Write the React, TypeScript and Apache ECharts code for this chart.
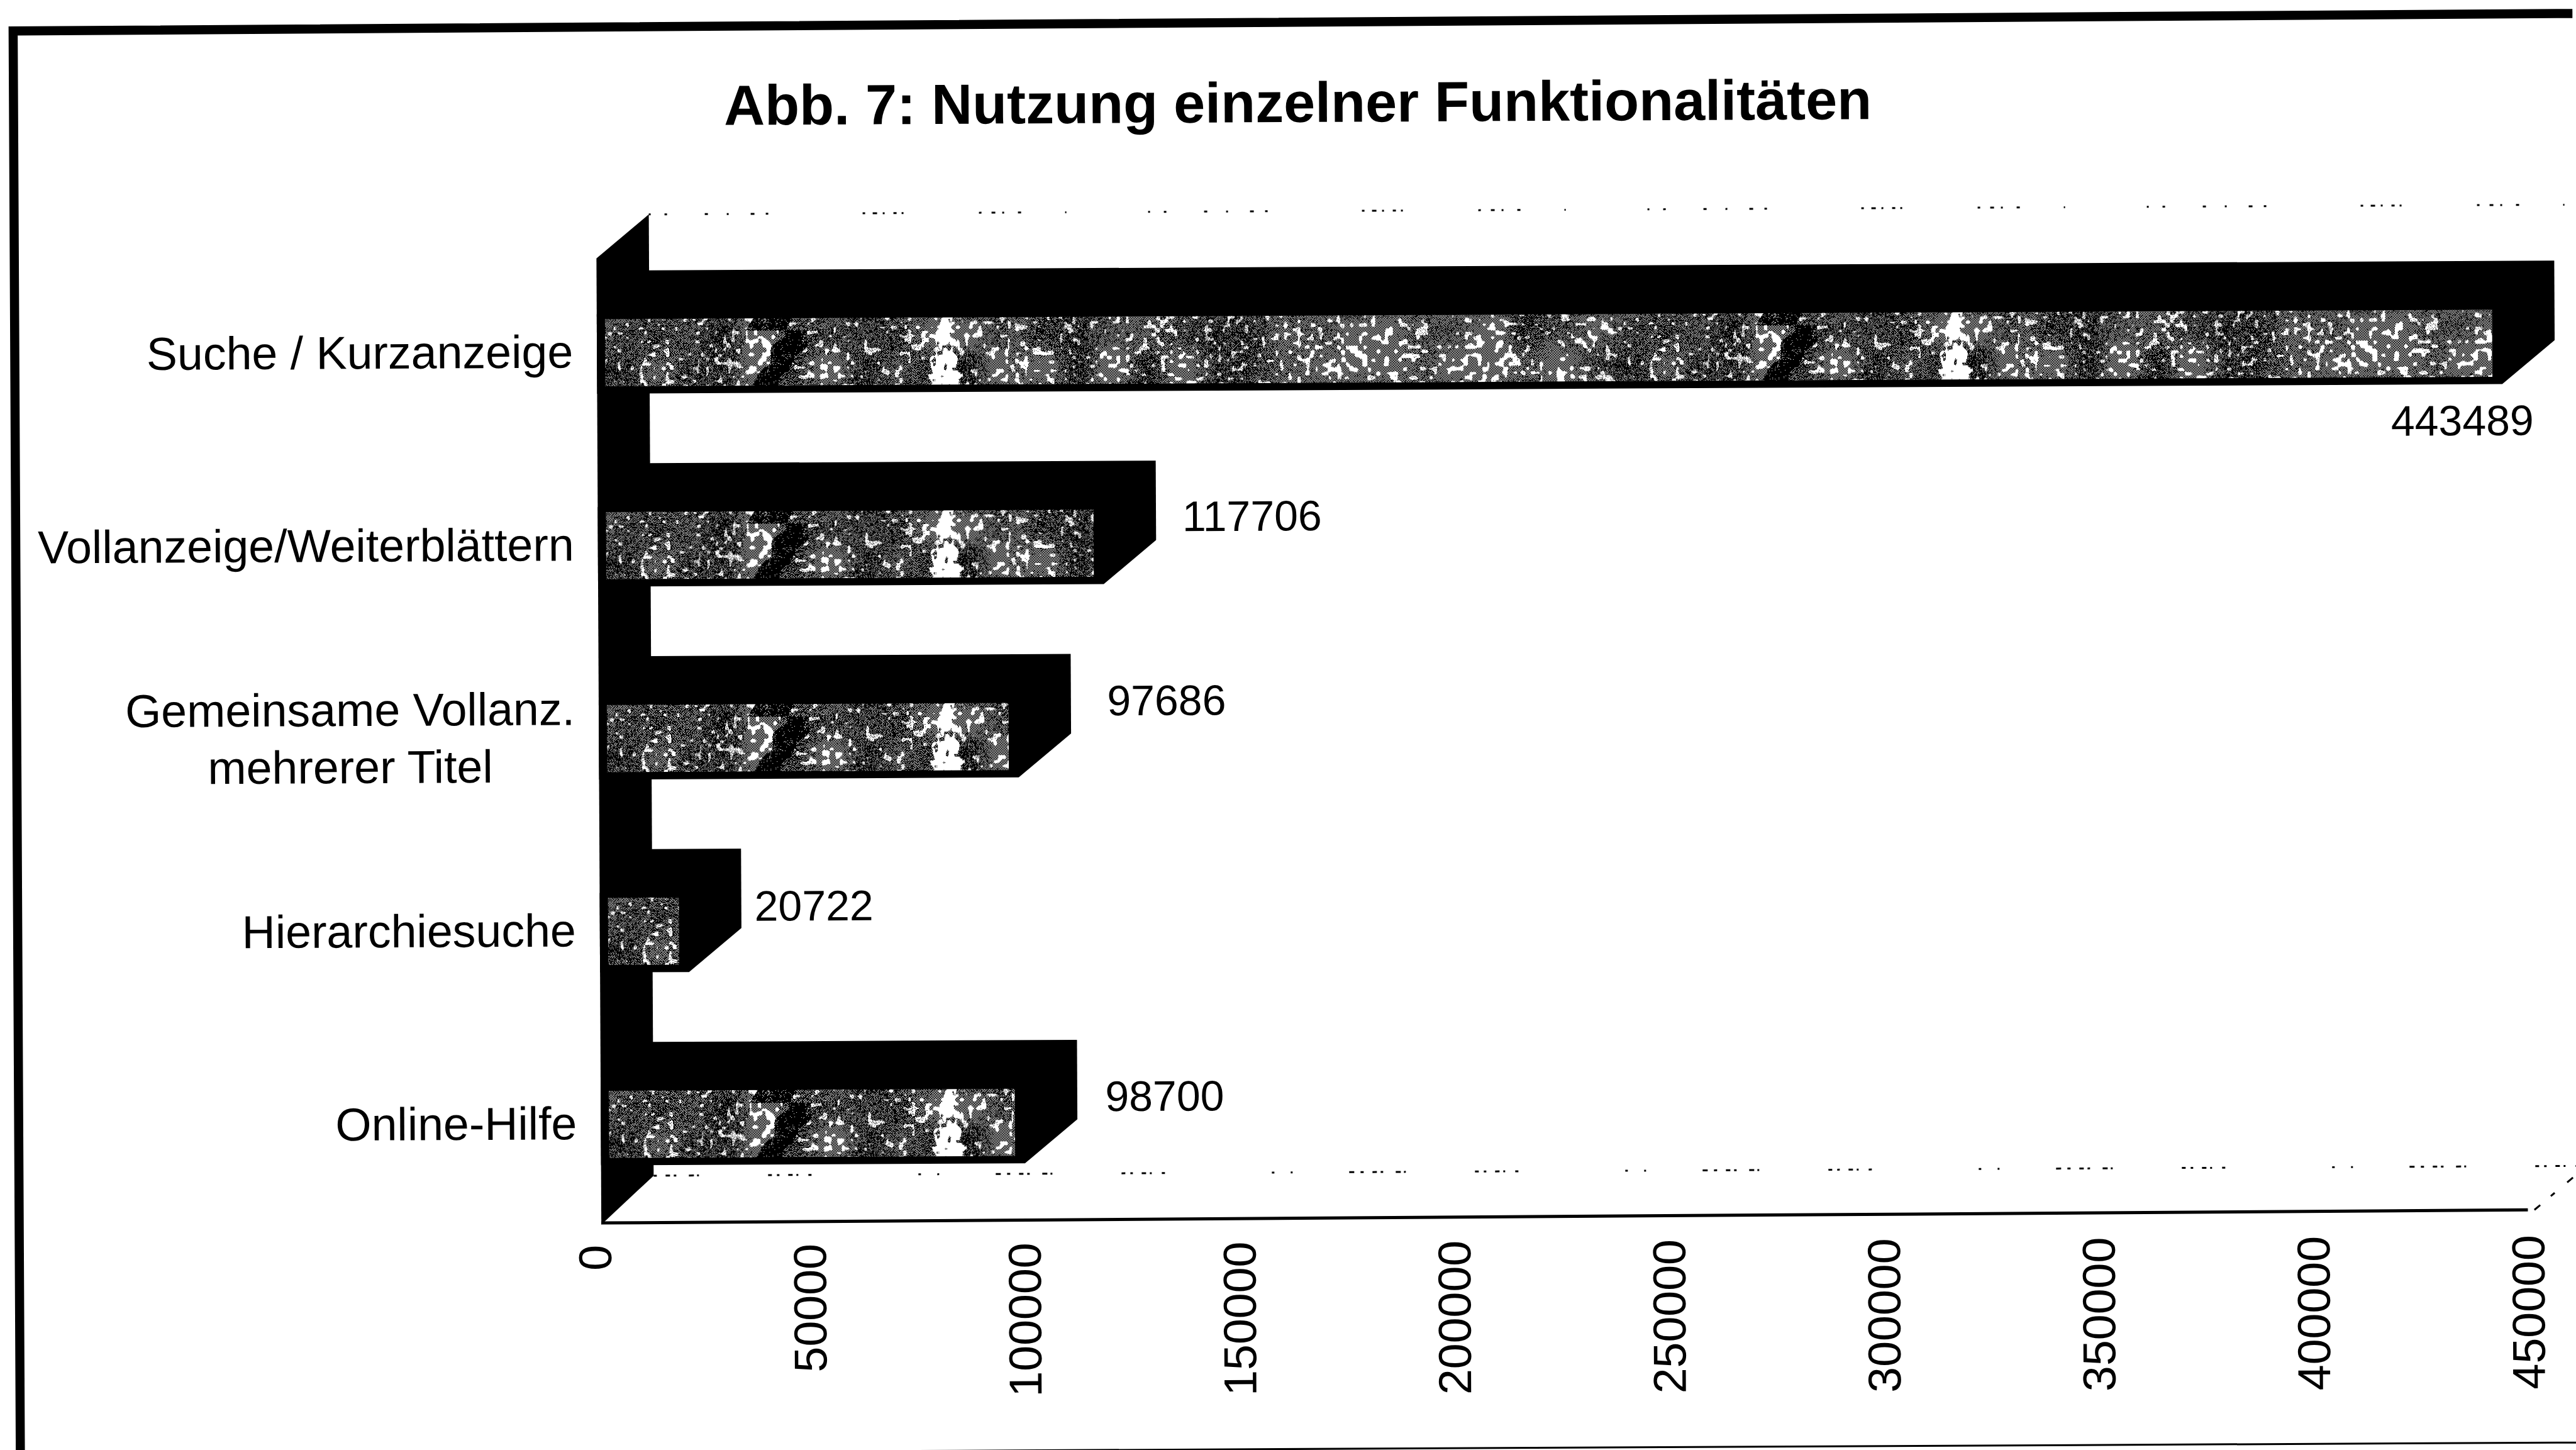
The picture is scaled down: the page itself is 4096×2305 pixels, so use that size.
import React, { useEffect, useRef } from "react";
import * as echarts from "echarts";

const categories = ["Suche / Kurzanzeige", "Vollanzeige/Weiterblättern", "Gemeinsame Vollanz.\nmehrerer Titel", "Hierarchiesuche", "Online-Hilfe"];
const usageValues = [443489, 117706, 97686, 20722, 98700];
const titleText = "Abb. 7: Nutzung einzelner Funktionalitäten";

const K = 2.6122; // one unit of the 1568-wide view, in window pixels
const DEPTH_X = 32 * K;
const DEPTH_Y = 26.6 * K;
const FONT = "'Liberation Sans', Arial, sans-serif";
const TOP_SPECKLE = [3, 22, 4, 60, 5, 30, 3, 35, 6, 18, 4, 150, 4, 12, 7, 9, 3, 14, 5, 8, 3, 120, 4, 16, 6, 11, 3, 22, 5, 70, 2, 130];
const FLOOR_SPECKLE = [5, 14, 7, 6, 4, 20, 8, 5, 3, 110, 6, 8, 4, 14, 7, 6, 3, 16, 5, 170, 4, 26, 3, 90, 8, 10];

function hash(i: number, j: number) {
  let h = Math.imul(i + 1, 374761393) ^ Math.imul(j + 1, 668265263);
  h = Math.imul(h ^ (h >>> 13), 1274126177);
  h = Math.imul(h ^ (h >>> 16), 2246822519);
  return ((h ^ (h >>> 15)) >>> 0) / 4294967296;
}
function smooth(x: number, y: number) {
  const xi = Math.floor(x), yi = Math.floor(y);
  const fx = x - xi, fy = y - yi;
  const a = hash(xi, yi), b = hash(xi + 1, yi), c = hash(xi, yi + 1), d = hash(xi + 1, yi + 1);
  const ux = fx * fx * (3 - 2 * fx), uy = fy * fy * (3 - 2 * fy);
  return a + (b - a) * ux + (c - a) * uy + (a - b - c + d) * ux * uy;
}

// the scan's stippled bar fill: one tile, as wide as the picture repeat and as high as a band
let tile: HTMLCanvasElement | null = null;
function scanTexture() {
  if (tile) return tile;
  const W = 1606, H = 307;
  const cv = document.createElement("canvas");
  cv.width = W; cv.height = H;
  const ctx = cv.getContext("2d")!;
  ctx.fillStyle = "#000";
  ctx.fillRect(0, 0, W, H);
  ctx.fillStyle = "#fff";
  for (let y = 0; y < H; y++) {
    const t = (y - 197) / 107;
    for (let x = 0; x < W; x++) {
      const broad = smooth(x / 55 + 9, y / 55 + 4);
      const fine = smooth(x / 7, y / 7);
      const hatch = (x + y) % 4 === 0 || (x - y + 4000) % 4 === 0;
      let on = hatch ? hash(x, y) < 0.3 + broad * 0.9 : fine > 0.84 - broad * 0.2;
      const slant = x + (y % 107) * 0.45 + 30 * (smooth(x / 24, y / 24) - 0.5);
      if (slant > 1246 && slant < 1290) on = on && hash(x + 3, y) < 0.12;
      const half = 7 + 18 * Math.max(0, Math.min(1, t)) + 14 * (smooth(x / 13 + 5, y / 13) - 0.5);
      if (Math.abs(x - 1505) < half && t > -0.05 && t < 1.05 && smooth(x / 6 + 2, y / 6) < 0.8) on = true;
      if (on) ctx.fillRect(x, y, 1, 1);
    }
  }
  tile = cv;
  return cv;
}

function renderBar(params: any, api: any) {
  const i = params.dataIndex;
  const v = api.value(0);
  const cat = api.value(1);
  const x0 = api.coord([0, cat])[0];
  const [x1, labelY] = api.coord([v, cat]);
  const cy = labelY + 1.5 * K;
  const band = api.size([0, 1])[1];
  const h = band * 0.412;
  const ft = cy - h / 2, fb = cy + h / 2;
  const label = String(v);
  const first = i === 0;
  const lx = first ? x1 + 19 * K : x1 + DEPTH_X + [0, 16, 22, 8, 17][i] * K;
  const ly = labelY + (first ? 47.6 : [0, -15.5, -21, -14.5, -15][i]) * K;
  return {
    type: "group",
    children: [
      { type: "polygon", shape: { points: [[x0, fb], [x0, ft], [x0 + DEPTH_X, ft - DEPTH_Y], [x1 + DEPTH_X, ft - DEPTH_Y], [x1 + DEPTH_X, fb - DEPTH_Y], [x1, fb]] }, style: { fill: "#000" } },
      { type: "rect", shape: { x: x0 + 5 * K, y: ft + 3 * K, width: x1 - x0 - 11 * K, height: h - 7.5 * K }, style: { fill: { image: scanTexture(), repeat: "repeat" } } },
      { type: "text", x: lx, y: ly, style: { text: label, fill: "#000", font: `68px ${FONT}`, align: first ? "right" : "left", verticalAlign: "middle", textAlign: first ? "right" : "left", textVerticalAlign: "middle" } },
    ],
  };
}

function renderWalls(params: any) {
  const g = params.coordSys;
  const l = g.x, r = g.x + g.width, t = g.y, b = g.y + g.height;
  const backX = l + DEPTH_X;
  const line = (pts: number[][], dash: any, w = 3) => ({ type: "polyline", shape: { points: pts }, style: { stroke: "#000", fill: "none", lineWidth: w, lineDash: dash } });
  return {
    type: "group",
    children: [
      line([[backX, t + 2 * K - DEPTH_Y], [r + DEPTH_X, t + 2 * K - DEPTH_Y]], TOP_SPECKLE),
      line([[backX, b - DEPTH_Y], [r + DEPTH_X, b - DEPTH_Y]], FLOOR_SPECKLE),
      line([[r, b], [r + DEPTH_X, b - DEPTH_Y]], [12, 22, 8, 26]),
      line([[l, b + 2 * K], [r - 4 * K, b]], null, 5),
      { type: "polygon", shape: { points: [[l, t + 2 * K], [backX, t + 2 * K - DEPTH_Y], [backX, b - DEPTH_Y], [l, b + 3 * K]] }, style: { fill: "#000" } },
    ],
  };
}

export default function App() {
  const ref = useRef<HTMLDivElement>(null);
  useEffect(() => {
    const chart = echarts.init(ref.current!, undefined, { renderer: "svg" });
    chart.setOption({
      animation: false,
      backgroundColor: "#fff",
      title: {
        text: titleText,
        left: 790 * K,
        top: 60.5 * K - 45,
        textAlign: "center",
        textStyle: { fontFamily: FONT, fontWeight: "bold", fontSize: 90, color: "#000" },
      },
      grid: { left: 364.5 * K, right: 70, top: 153.1 * K, bottom: 2305 - 740.1 * K, containLabel: false },
      xAxis: {
        type: "value",
        min: 0,
        max: 450000,
        interval: 50000,
        axisLine: { show: false },
        axisTick: { show: false },
        splitLine: { show: false },
        axisLabel: { rotate: 90, margin: 40, verticalAlign: "bottom", lineHeight: 20, color: "#000", fontFamily: FONT, fontSize: 73.5, formatter: (v: number) => String(v) },
      },
      yAxis: {
        type: "category",
        inverse: true,
        data: categories,
        axisLine: { show: false },
        axisTick: { show: false },
        splitLine: { show: false },
        axisLabel: {
          margin: 38,
          interval: 0,
          color: "#000",
          fontFamily: FONT,
          fontSize: 73.5,
          lineHeight: 91,
          formatter: (s: string) => s.split("\n").map((p) => `{c|${p}}`).join("\n"),
          rich: { c: { align: "center", fontFamily: FONT, fontSize: 73.5, lineHeight: 91, color: "#000" } },
        },
      },
      graphic: [
        { type: "polyline", silent: true, shape: { points: [[26.5, 2400], [26.5, 39], [4200, 31.6]] }, style: { stroke: "#000", fill: "none", lineWidth: 14.5 } },
        { type: "rect", silent: true, shape: { x: -40, y: 2302, width: 4200, height: 20 }, style: { fill: "#000" } },
      ],
      series: [
        { type: "custom", coordinateSystem: "cartesian2d", renderItem: renderWalls, data: [[0, 0]], silent: true, z: 1, clip: false },
        { type: "custom", coordinateSystem: "cartesian2d", renderItem: renderBar, encode: { x: 0, y: 1 }, data: usageValues.map((v, i) => [v, i]), silent: true, z: 2, clip: false },
      ],
    });
    return () => chart.dispose();
  }, []);
  return (
    <div style={{ position: "fixed", left: 0, top: 0, width: 4096, height: 2305, overflow: "hidden", background: "#fff" }}>
      <div ref={ref} style={{ width: 4096, height: 2305, transform: "rotate(-0.29deg)", transformOrigin: "50% 50%" }} />
    </div>
  );
}
